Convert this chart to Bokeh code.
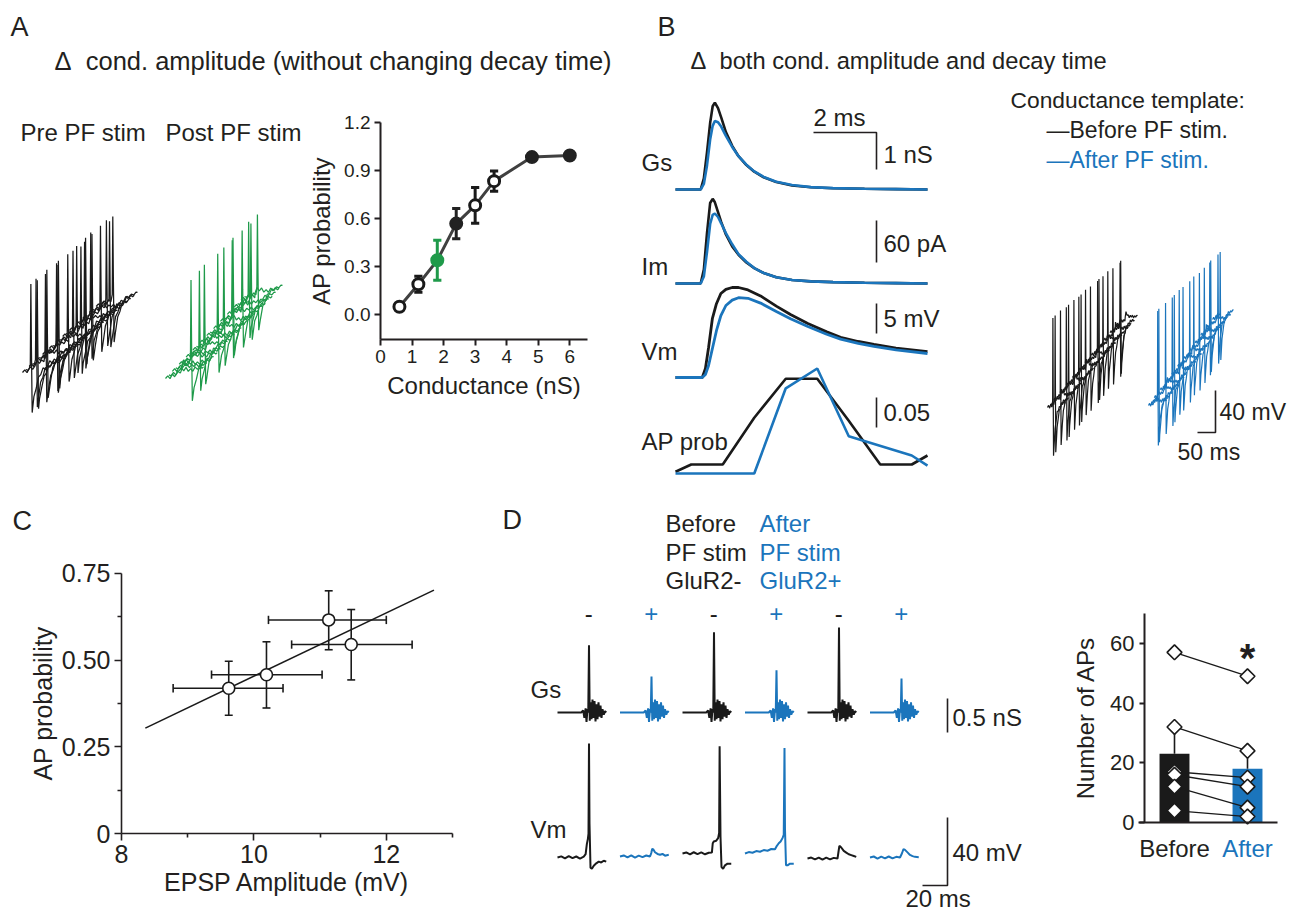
import numpy as np
from bokeh.plotting import figure
from bokeh.layouts import row, column
from bokeh.models import Range1d, FixedTicker, PrintfTickFormatter
from bokeh.embed import file_html
from bokeh.resources import INLINE
from bokeh.core.properties import value

FONT = "Liberation Sans"
INK = "#231f20"
KTR = "#1a1a1a"
BLUE = "#1b75bc"
GREEN = "#1f9a4a"

# ---------------- Panel A: AP probability vs conductance ----------------
a_cond = [0.6, 1.2, 1.8, 2.4, 3.0, 3.6, 4.8, 6.0]
a_prob = [0.048, 0.189, 0.338, 0.567, 0.681, 0.832, 0.982, 0.992]
a_err = [0.012, 0.05, 0.125, 0.095, 0.112, 0.063, 0.012, 0.012]
a_kind = ["open", "open", "green", "filled", "open", "open", "filled", "filled"]
a_xticks = [0, 1, 2, 3, 4, 5, 6]
a_yticks = [0.0, 0.3, 0.6, 0.9, 1.2]

# Panel A waterfall sweeps (spike position along sweep, 1 = fired)
a_blk_spike_u = [0.22, 0.30, 0.18, 0.34, 0.26, 0.20, 0.38, 0.28, 0.24, 0.42, 0.31, 0.36,
                 0.48, 0.28, 0.40, 0.46, 0.25, 0.33, 0.21, 0.37, 0.29, 0.44, 0.27, 0.35]
a_blk_fires = [1, 1, 1, 1, 0, 1, 1, 1, 1, 0, 1, 1, 1, 1, 1, 0, 1, 1, 1, 0, 1, 1, 1, 1]
a_grn_spike_u = [0.30, 0.35, 0.25, 0.40, 0.30, 0.28, 0.35, 0.45, 0.30, 0.40, 0.32, 0.38,
                 0.45, 0.36, 0.42, 0.40, 0.33, 0.27, 0.39, 0.31, 0.44, 0.29, 0.37, 0.34]
a_grn_fires = [0, 0, 0, 1, 0, 0, 1, 0, 1, 0, 0, 1, 0, 1, 0, 1, 1, 0, 1, 0, 1, 1, 0, 1]

# ---------------- Panel B traces ----------------
b_t = [0, 0.8, 0.9, 1.0, 1.1, 1.18, 1.25, 1.35, 1.45, 1.6, 1.8, 2.0, 2.25, 2.5, 2.8, 3.2, 3.7, 4.3, 5.0, 6.0, 7.0, 8.0]
b_gs_before = [0, 0, 0.3, 1.0, 1.8, 2.25, 2.35, 2.2, 1.95, 1.55, 1.18, 0.9, 0.66, 0.48, 0.33, 0.2, 0.11, 0.06, 0.035, 0.02, 0.01, 0.0]
b_gs_after = [0, 0, 0.15, 0.65, 1.35, 1.72, 1.85, 1.82, 1.7, 1.45, 1.15, 0.9, 0.67, 0.49, 0.34, 0.21, 0.12, 0.065, 0.037, 0.02, 0.01, 0.0]
b_im_before = [0, 0, 20, 72, 115, 121, 116, 102, 88, 70, 53, 41, 30, 22, 15, 9, 5, 3, 2, 1, 0.5, 0]
b_im_after = [0, 0, 10, 45, 85, 98, 100, 95, 86, 72, 56, 42, 31, 22, 15, 9, 5, 3, 2, 1, 0.5, 0]
b_vm_t = [0, 0.85, 0.95, 1.05, 1.17, 1.3, 1.44, 1.6, 1.8, 2.0, 2.3, 2.7, 3.2, 3.65, 4.2, 4.8, 5.24, 5.8, 6.3, 7.0, 8.0]
b_vm_before = [0, 0, 1.5, 5.0, 9.8, 12.3, 14.0, 14.7, 15.0, 15.0, 14.6, 13.6, 11.9, 10.5, 9.0, 7.6, 6.7, 6.0, 5.5, 4.9, 4.3]
b_vm_after = [0, 0, 0.5, 2.0, 4.8, 7.8, 10.3, 12.0, 12.9, 13.3, 13.2, 12.4, 11.0, 9.8, 8.5, 7.2, 6.4, 5.7, 5.2, 4.6, 4.0]
b_ap_t_before = [0, 0.5, 1.5, 2.5, 3.5, 4.5, 5.5, 6.5, 7.5, 8.0]
b_ap_before = [0.003, 0.015, 0.015, 0.093, 0.158, 0.158, 0.088, 0.015, 0.015, 0.03]
b_ap_t_after = [0, 2.5, 3.5, 4.5, 5.5, 7.5, 8.0]
b_ap_after = [0, 0, 0.142, 0.175, 0.062, 0.03, 0.013]
b_legend = ["\u2014Before PF stim.", "\u2014After PF stim."]

b_blk_spike_u = [0.30, 0.25, 0.40, 0.20, 0.35, 0.30, 0.45, 0.25, 0.35, 0.30, 0.40, 0.20,
                 0.30, 0.45, 0.35, 0.25, 0.30, 0.40, 0.22, 0.33, 0.28, 0.38, 0.24, 0.32]
b_blk_fires = [1, 1, 0, 1, 1, 1, 0, 1, 1, 1, 0, 1, 1, 0, 1, 1, 1, 0, 1, 1, 0, 1, 1, 0]
b_blu_spike_u = [0.30, 0.35, 0.25, 0.40, 0.30, 0.20, 0.35, 0.30, 0.45, 0.25, 0.30, 0.40,
                 0.35, 0.30, 0.25, 0.40, 0.30, 0.35, 0.28, 0.33, 0.22, 0.38, 0.30, 0.26]
b_blu_fires = [0, 1, 1, 0, 1, 0, 1, 1, 0, 1, 1, 0, 1, 0, 1, 1, 0, 1, 0, 1, 1, 0, 1, 1]

# ---------------- Panel C ----------------
c_epsp = [9.62, 10.19, 11.13, 11.47]
c_epsp_lo = [8.78, 9.36, 10.22, 10.57]
c_epsp_hi = [10.44, 11.03, 12.0, 12.39]
c_prob = [0.419, 0.458, 0.616, 0.545]
c_prob_lo = [0.341, 0.362, 0.530, 0.443]
c_prob_hi = [0.497, 0.553, 0.700, 0.646]
c_fit_x = [8.36, 12.72]
c_fit_y = [0.304, 0.702]
c_xticks = [8, 10, 12]
c_xminor = [9, 11, 13]
c_yticks = [0, 0.25, 0.5, 0.75]
c_yminor = [0.125, 0.375, 0.625]

# ---------------- Panel D traces ----------------
d_hdr_left = ["Before", "PF stim", "GluR2-"]
d_hdr_right = ["After", "PF stim", "GluR2+"]
d_signs = ["-", "+", "-", "+", "-", "+"]
d_gs_t = [0, 19, 20.5, 21.5, 22.5, 23.2, 24.0, 24.6, 25.2, 25.8, 26.5, 27.2, 28.0, 28.8, 29.6, 30.4,
          31.2, 32.0, 32.8, 33.6, 34.4, 35.2, 36.0, 37.0, 38.0, 39.0]
d_gs_noise = [0, 0, 0.03, -0.08, 0.06, -0.14, 0.05, 0.0, 0.0, -0.12, 0.15, -0.1, 0.19, -0.08, 0.17, -0.13,
              0.12, -0.1, 0.15, -0.06, 0.1, -0.08, 0.05, -0.03, 0.02, 0]
d_gs_peak_idx = 8
d_gs_peak = [0.99, 0.53, 1.18, 0.62, 1.25, 0.50]
d_vm = [
    ([0, 3, 6, 9, 12, 15, 18, 21, 22.5, 23.5, 24.3, 24.8, 25.2, 25.6, 26.4, 27.5, 29, 31, 33, 35, 37, 39],
     [-0.6, 0.1, -1.1, 0.2, -1.0, 0.0, -1.2, -0.1, 1.4, 7.4, 10.4, 13.4, 66.4, 19.4, -6.6, -7.2, -5.4, -4.0, -3.0, -3.5, -2.5, -3.0]),
    ([0, 3, 6, 9, 12, 15, 18, 21, 24, 25, 25.8, 26.8, 28, 30, 32, 34, 36, 39],
     [0, 0.6, -0.5, 0.7, -0.6, 0.5, -0.4, 0.6, 0, 2, 4.5, 4, 2.5, 1.5, 1, 1.5, 0.5, 1]),
    ([0, 3, 6, 9, 12, 15, 18, 21, 23.5, 24.2, 25, 27, 28.5, 29.3, 29.7, 30.4, 31.2, 32.5, 34, 36, 39],
     [1.8, 2.4, 1.3, 2.5, 1.4, 2.4, 1.3, 2.2, 2.3, 7.8, 8.8, 9.3, 10.8, 13.8, 64.8, 11.8, -6.2, -7.2, -5.2, -4.2, -4.2]),
    ([0, 3, 6, 9, 12, 15, 18, 21, 24, 25.5, 27, 28.5, 30, 31, 31.6, 32, 32.8, 34, 36, 39],
     [1.8, 2.6, 2.2, 3.2, 2.8, 3.8, 3.4, 4.4, 4.3, 6.3, 7.8, 8.8, 10.8, 12.8, 63.8, 15.8, -5.2, -5.2, -4.2, -4.2]),
    ([0, 3, 6, 9, 12, 15, 18, 21, 24, 24.8, 25.5, 27, 29, 31, 33, 35, 37, 39],
     [-1.2, -0.6, -1.7, -0.6, -1.8, -0.7, -1.7, -0.8, -1.2, 2.8, 6.3, 5.3, 3.3, 2.3, 1.3, 0.8, 0.3, -0.2]),
    ([0, 3, 6, 9, 12, 15, 18, 21, 24, 25.6, 26.8, 28, 30, 32, 34, 36, 39],
     [-0.6, 0.0, -1.2, -0.1, -1.1, 0.0, -1.1, -0.2, -0.6, 1.9, 4.4, 3.9, 2.4, 0.9, 0.2, -0.2, -0.4]),
]

# ---------------- Panel D bars ----------------
d_groups = ["Before", "After"]
d_mean = [23, 18]
d_sem = [8.5, 6.5]
d_before = [57, 32, 17, 16, 12, 4]
d_after = [49, 24, 15, 12, 5, 2]
d_yticks = [0, 20, 40, 60]

# sweep baseline jitter used for the stacked raw sweeps (pixels)
wf_u = [0, .06, .12, .18, .24, .30, .36, .42, .48, .54, .60, .66, .72, .78, .84, .90, .96, 1.0]
wf_v = [0, 2, -1.5, 2.5, -1, 2, -2, 1.5, -1, 2.5, -1.5, 1, -2, 2, -1, 1.5, -1, 0]


# ======================================================================
def canvas(w, h, ox, oy):
    """Axis-less panel whose data units are page pixels (y downwards)."""
    p = figure(width=w, height=h, x_range=Range1d(ox, ox + w), y_range=Range1d(oy + h, oy),
               toolbar_location=None, output_backend="svg",
               x_axis_location=None, y_axis_location=None, min_border=0)
    p.outline_line_color = None
    p.grid.visible = False
    return p


def plotfig(w, h, ox, oy, x0px, xpx, y0px, ypx, x0=0.0, y0=0.0):
    """Panel with real axes; data value x0 sits at page pixel x0px, xpx pixels per unit."""
    xr = Range1d(x0 + (ox - x0px) / xpx, x0 + (ox + w - x0px) / xpx)
    yr = Range1d(y0 + (y0px - (oy + h)) / ypx, y0 + (y0px - oy) / ypx)
    p = figure(width=w, height=h, x_range=xr, y_range=yr, toolbar_location=None,
               output_backend="svg", min_border=0)
    p.outline_line_color = None
    p.grid.visible = False
    fx = lambda X: x0 + (X - x0px) / xpx
    fy = lambda Y: y0 + (y0px - Y) / ypx
    return p, fx, fy


def txt(p, x, y, s, size="24px", color=INK, align="left", baseline="middle", style="normal"):
    xs = list(x) if isinstance(x, (list, tuple)) else [x]
    ys = list(y) if isinstance(y, (list, tuple)) else [y]
    ss = list(s) if isinstance(s, (list, tuple)) else [s]
    cs = list(color) if isinstance(color, (list, tuple)) else [color] * len(xs)
    p.text(x=xs, y=ys, text=ss, text_color=cs, text_font=value(FONT), text_font_size=size,
           text_align=align, text_baseline=baseline, text_font_style=style)


def bars(p, xs, ys, lw=1.6, color=INK):
    p.multi_line(xs=xs, ys=ys, line_color=color, line_width=lw)


def waterfall(p, x0, y0, x1, y1, L, slant, up0, up1, down, spike_u, fires, color, lw, wamp=1.0):
    """Stacked sweeps: first sweep starts at (x0, y0), last one at (x1, y1)."""
    xs, ys = [], []
    n = len(fires)
    dx, dy = (x1 - x0) / (n - 1), (y1 - y0) / (n - 1)
    for k, (s, f) in enumerate(zip(spike_u, fires)):
        up = up0 + (up1 - up0) * k / (n - 1)
        pts = []
        for u, w in zip(wf_u, wf_v):
            w = w * wamp * (1 if k % 2 == 0 else -0.8)
            if f:
                if s - 0.02 <= u <= s + 0.04:
                    continue
                extra = -down * np.exp(-(u - s - 0.035) / 0.12) if u > s else 0.0
            else:
                extra = 8 * np.exp(-(u - s) / 0.2) if u > s else 0.0
            pts.append((u, w + extra))
        if f:
            pts += [(s - 0.015, 5), (s, up), (s + 0.015, up * 0.25), (s + 0.035, -down)]
        else:
            pts += [(s, 3)]
        pts.sort()
        bx, by = x0 + k * dx, y0 + k * dy
        xs.append([bx + u * L for u, _ in pts])
        ys.append([by - u * L * slant - v for u, v in pts])
    p.multi_line(xs=xs, ys=ys, line_color=color, line_width=lw)


def style_axes(p, tick_size, label_size, lw, tick_out, minor_out=0, tick_standoff=4, label_standoff=6):
    for ax in p.axis:
        ax.axis_line_color = INK
        ax.axis_line_width = lw
        ax.major_tick_line_color = INK
        ax.major_tick_line_width = lw
        ax.major_tick_out = tick_out
        ax.major_tick_in = 0
        ax.minor_tick_line_color = INK if minor_out else None
        ax.minor_tick_line_width = lw
        ax.minor_tick_out = minor_out
        ax.minor_tick_in = 0
        ax.major_label_text_font = FONT
        ax.major_label_text_font_size = tick_size
        ax.major_label_text_color = INK
        ax.major_label_standoff = tick_standoff
        ax.axis_label_text_font = FONT
        ax.axis_label_text_font_size = label_size
        ax.axis_label_text_font_style = "normal"
        ax.axis_label_text_color = INK
        ax.axis_label_standoff = label_standoff


# ---------------- A header ----------------
ph = canvas(640, 110, 0, 0)
txt(ph, 10, 26, "A", "27px")
txt(ph, 54, 60, "\u0394\u00a0 cond. amplitude (without changing decay time)", "25.5px")

# ---------------- A traces ----------------
pt = canvas(309, 375, 0, 110)
txt(pt, [20, 165], [132, 132], ["Pre PF stim", "Post PF stim"], "24px")
waterfall(pt, 22, 372, 99, 303, 38, 0.3, 86, 83, 43, a_blk_spike_u, a_blk_fires, KTR, 1.25)
waterfall(pt, 165, 378, 244, 296, 38, 0.3, 84, 78, 38, a_grn_spike_u, a_grn_fires, GREEN, 1.25)

# ---------------- A scatter ----------------
pa, ax_, ay_ = plotfig(331, 375, 309, 110, 380, 31.55, 314, 160.3)
pa.xaxis.ticker = FixedTicker(ticks=a_xticks)
pa.yaxis.ticker = FixedTicker(ticks=a_yticks)
pa.yaxis.formatter = PrintfTickFormatter(format="%.1f")
pa.xaxis.axis_label = "Conductance (nS)"
pa.yaxis.axis_label = "AP probability"
pa.xaxis.fixed_location = ay_(339)
pa.yaxis.fixed_location = 0
pa.xaxis.bounds = (0, ax_(587))
pa.yaxis.bounds = (ay_(339), 1.2)
style_axes(pa, "19px", "24px", 2, 6)
a_fill = ["white" if k == "open" else (GREEN if k == "green" else "#222222") for k in a_kind]
a_edge = [KTR if k == "open" else (GREEN if k == "green" else "#222222") for k in a_kind]
a_lo = [p - e for p, e in zip(a_prob, a_err)]
a_hi = [p + e for p, e in zip(a_prob, a_err)]
pa.line(a_cond, a_prob, line_width=3, line_color="#404040")
pa.segment(x0=a_cond, y0=a_lo, x1=a_cond, y1=a_hi, line_width=3, line_color=a_edge)
cap = 0.13
pa.segment(x0=[c - cap for c in a_cond] * 2, y0=a_lo + a_hi, x1=[c + cap for c in a_cond] * 2,
           y1=a_lo + a_hi, line_width=3, line_color=a_edge * 2)
pa.scatter(a_cond, a_prob, size=11, fill_color=a_fill, line_color=a_edge, line_width=3)

# ---------------- B ----------------
pb = canvas(651, 485, 640, 0)
txt(pb, 657, 26, "B", "27px")
txt(pb, 690, 60, "\u0394\u00a0 both cond. amplitude and decay time", "23.7px")
BX0, BPX = 675, 31.5
GS0, GSPX = 189, 37
IM0, IMPX = 283, 0.7
VM0, VMPX = 377, 6
AP0, APPX = 473, 600
bx = [BX0 + t * BPX for t in b_t]
bvx = [BX0 + t * BPX for t in b_vm_t]
pb.line(bx, [GS0 - g * GSPX for g in b_gs_before], line_color=KTR, line_width=2.6)
pb.line(bx, [GS0 - g * GSPX for g in b_gs_after], line_color=BLUE, line_width=2.6)
pb.line(bx, [IM0 - i * IMPX for i in b_im_before], line_color=KTR, line_width=2.6)
pb.line(bx, [IM0 - i * IMPX for i in b_im_after], line_color=BLUE, line_width=2.6)
pb.line(bvx, [VM0 - v * VMPX for v in b_vm_before], line_color=KTR, line_width=2.8)
pb.line(bvx, [VM0 - v * VMPX for v in b_vm_after], line_color=BLUE, line_width=2.8)
pb.line([BX0 + t * BPX for t in b_ap_t_before], [AP0 - a * APPX for a in b_ap_before], line_color=KTR, line_width=2.6)
pb.line([BX0 + t * BPX for t in b_ap_t_after], [AP0 - a * APPX for a in b_ap_after], line_color=BLUE, line_width=2.6)
txt(pb, [641, 641, 641, 641], [162, 266, 351, 441], ["Gs", "Im", "Vm", "AP prob"], "24px")
SBX = 876
bars(pb, [[SBX - 2 * BPX, SBX, SBX], [SBX, SBX], [SBX, SBX], [SBX, SBX]],
     [[132, 132, 132 + 1 * GSPX], [220, 220 + 60 * IMPX], [303, 303 + 5 * VMPX], [397, 397 + 0.05 * APPX]])
txt(pb, [SBX - 63, SBX + 7, SBX + 7, SBX + 7, SBX + 7], [117, 154, 243, 318, 412],
    ["2 ms", "1 nS", "60 pA", "5 mV", "0.05"], "24px")
txt(pb, 1010, 99, "Conductance template:", "22.8px")
txt(pb, [1046, 1046], [129, 159], b_legend, "23px", color=[INK, BLUE])
waterfall(pb, 1047, 407, 1119, 321, 18, 0.3, 88, 62, 50, b_blk_spike_u, b_blk_fires, KTR, 1.2, wamp=0.9)
waterfall(pb, 1148, 405, 1215, 315, 18, 0.3, 90, 62, 46, b_blu_spike_u, b_blu_fires, BLUE, 1.2, wamp=0.9)
bars(pb, [[1197, 1215, 1215]], [[432, 432, 390]])
txt(pb, 1219, 411, "40 mV", "23px")
txt(pb, 1177, 451, "50 ms", "23px")

# ---------------- C ----------------
pc, cx_, cy_ = plotfig(480, 427, 0, 485, 121, 66.2, 833, 346.7, x0=8.0)
pc.xaxis.ticker = FixedTicker(ticks=c_xticks, minor_ticks=c_xminor)
pc.yaxis.ticker = FixedTicker(ticks=c_yticks, minor_ticks=c_yminor)
pc.yaxis.formatter = PrintfTickFormatter(format="%.2f")
pc.yaxis.major_label_overrides = {0: "0"}
pc.xaxis.axis_label = "EPSP Amplitude (mV)"
pc.yaxis.axis_label = "AP probability"
pc.xaxis.fixed_location = 0
pc.yaxis.fixed_location = 8
pc.xaxis.bounds = (8, 13)
pc.yaxis.bounds = (0, 0.75)
style_axes(pc, "25px", "25px", 1.6, 7, minor_out=4, tick_standoff=4, label_standoff=2)
pc.line(c_fit_x, c_fit_y, line_color=KTR, line_width=1.6)
pc.segment(x0=c_epsp_lo, y0=c_prob, x1=c_epsp_hi, y1=c_prob, line_color=KTR, line_width=1.6)
pc.segment(x0=c_epsp, y0=c_prob_lo, x1=c_epsp, y1=c_prob_hi, line_color=KTR, line_width=1.6)
ycap, xcap = 0.012, 0.06
pc.segment(x0=c_epsp_lo + c_epsp_hi, y0=[p - ycap for p in c_prob] * 2,
           x1=c_epsp_lo + c_epsp_hi, y1=[p + ycap for p in c_prob] * 2, line_color=KTR, line_width=1.6)
pc.segment(x0=[x - xcap for x in c_epsp] * 2, y0=c_prob_lo + c_prob_hi,
           x1=[x + xcap for x in c_epsp] * 2, y1=c_prob_lo + c_prob_hi, line_color=KTR, line_width=1.6)
pc.scatter(c_epsp, c_prob, size=12, fill_color="white", line_color=KTR, line_width=1.6)
txt(pc, cx_(12), cy_(520), "C", "27px")

# ---------------- D traces ----------------
pdt = canvas(580, 427, 480, 485)
txt(pdt, 502, 519, "D", "27px")
txt(pdt, [665] * 3, [523, 552, 580], d_hdr_left, "24px")
txt(pdt, [759] * 3, [523, 552, 580], d_hdr_right, "24px", color=BLUE)
DX0, DPX, DPER = 557, 1.25, 50
DGS0, DGSPX = 712, 68
DVM0, DVMPX = 856, 1.7
sweep_col = [KTR if s == "-" else BLUE for s in d_signs]
txt(pdt, [DX0 + (i * DPER + 25) * DPX for i in range(6)], [613] * 6, d_signs, "24px",
    color=sweep_col, align="center")
gxs, gys, vxs, vys = [], [], [], []
for i in range(6):
    g = [d_gs_peak[i] if j == d_gs_peak_idx else n for j, n in enumerate(d_gs_noise)]
    gxs.append([DX0 + (i * DPER + t) * DPX for t in d_gs_t])
    gys.append([DGS0 - v * DGSPX for v in g])
    tt, vv = d_vm[i]
    vxs.append([DX0 + (i * DPER + t) * DPX for t in tt])
    vys.append([DVM0 - v * DVMPX for v in vv])
pdt.multi_line(xs=gxs, ys=gys, line_color=sweep_col, line_width=2)
pdt.multi_line(xs=vxs, ys=vys, line_color=sweep_col, line_width=2)
txt(pdt, [530, 530], [689, 829], ["Gs", "Vm"], "24px")
bars(pdt, [[947, 947], [922, 947, 947]], [[698, 698 + 0.5 * DGSPX], [885, 885, 885 - 40 * DVMPX]])
txt(pdt, [952, 952, 905], [717, 852, 898], ["0.5 nS", "40 mV", "20 ms"], "24px")

# ---------------- D bars ----------------
d_pos = [i + 0.5 for i in range(len(d_groups))]
pdb, dx_, dy_ = plotfig(231, 427, 1060, 485, 1174, 73, 822, 2.985, x0=0.5)
pdb.yaxis.ticker = FixedTicker(ticks=d_yticks)
pdb.yaxis.fixed_location = dx_(1144)
pdb.yaxis.bounds = (0, 70)
pdb.yaxis.axis_label = "Number of APs"
pdb.xaxis.fixed_location = 0
pdb.xaxis.bounds = (dx_(1138), dx_(1277))
style_axes(pdb, "22px", "24px", 2, 5, tick_standoff=5, label_standoff=8)
pdb.xaxis.ticker = FixedTicker(ticks=[])
pdb.xaxis.major_tick_out = 0
pdb.xaxis.major_label_text_alpha = 0
pdb.vbar(x=d_pos, top=d_mean, width=0.41, fill_color=[KTR, BLUE], line_color=None)
pdb.segment(x0=d_pos, y0=d_mean, x1=d_pos, y1=[m + s for m, s in zip(d_mean, d_sem)],
            line_color=KTR, line_width=1.6)
pdb.segment(x0=[d_pos[0]] * len(d_before), y0=d_before, x1=[d_pos[1]] * len(d_after), y1=d_after,
            line_color=KTR, line_width=1.3)
pdb.scatter(x=[d_pos[0]] * len(d_before) + [d_pos[1]] * len(d_after), y=d_before + d_after,
            marker="square", angle=np.pi / 4, size=10.5, fill_color="white", line_color=KTR, line_width=1.6)
pdb.text(x=d_pos, y=[dy_(848)] * 2, text=d_groups, text_color=[INK, BLUE], text_font=value(FONT),
         text_font_size="24px", text_align="center", text_baseline="middle")
pdb.text(x=[d_pos[1]], y=[55], text=["*"], text_color=INK, text_font=value(FONT),
         text_font_size="40px", text_font_style="bold", text_align="center", text_baseline="alphabetic")

layout = column(row(column(ph, row(pt, pa)), pb), row(pc, pdt, pdb))
open("out.html", "w").write(file_html(layout, INLINE, title="figure"))
